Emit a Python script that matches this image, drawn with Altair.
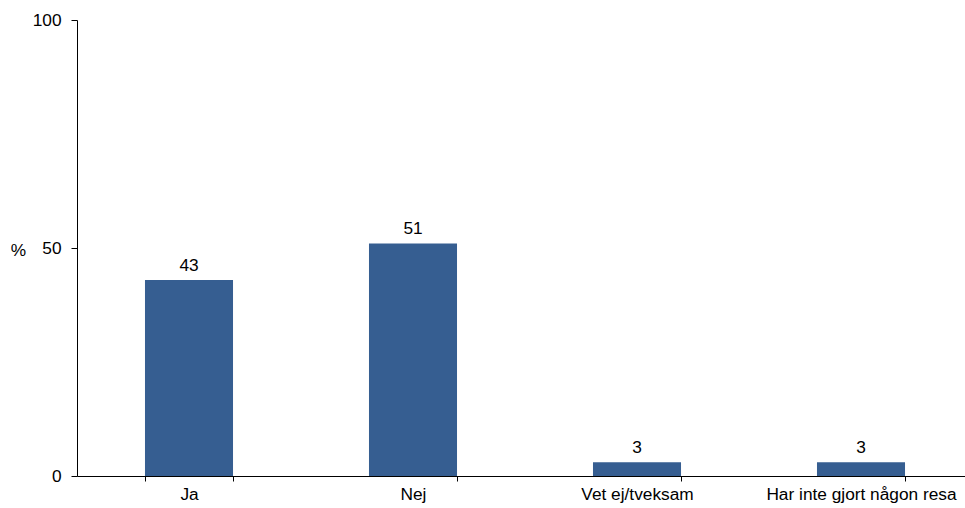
import altair as alt
import pandas as pd

# Survey answers (percent)
categories = ["Ja", "Nej", "Vet ej/tveksam", "Har inte gjort någon resa"]
values = [43, 51, 3, 3]

df = pd.DataFrame({"svar": categories, "procent": values})

FONT = "Liberation Sans"
BAR = "#365E91"
FS = 17.3

base = alt.Chart(df).encode(
    x=alt.X(
        "svar:N",
        sort=categories,
        scale=alt.Scale(range=[0, 896], paddingInner=0.607, paddingOuter=0.3035),
        axis=alt.Axis(
            title=None,
            labelAngle=0,
            labelFontSize=FS,
            labelFont=FONT,
            labelColor="#000000",
            labelPadding=4,
            labelBaseline="top",
            labelLimit=0,
            bandPosition=0,
            tickBand="extent",
            ticks=True,
            tickSize=5,
            tickColor="#000000",
            domainColor="#000000",
            grid=False,
        ),
    ),
    y=alt.Y(
        "procent:Q",
        scale=alt.Scale(domain=[0, 100], nice=False),
        axis=alt.Axis(
            values=[0, 50, 100],
            title="%",
            titleAngle=0,
            titleFont=FONT,
            titleFontSize=FS,
            titleFontWeight="normal",
            titleColor="#000000",
            titleX=-59,
            titleY=230,
            titleAlign="center",
            titleBaseline="middle",
            labelFontSize=FS,
            labelFont=FONT,
            labelColor="#000000",
            labelPadding=10,
            tickSize=6,
            tickColor="#000000",
            domainColor="#000000",
            grid=False,
        ),
    ),
)

bars = base.mark_bar(color=BAR)

labels = base.mark_text(
    baseline="alphabetic", dy=-9, fontSize=FS, font=FONT, color="#000000"
).encode(text="procent:Q")

chart = (
    alt.layer(bars, labels)
    .properties(
        width=888,
        height=456,
        autosize=alt.AutoSizeParams(type="none"),
        padding={"left": 77, "top": 20, "right": 0, "bottom": 32},
        view=alt.ViewBackground(stroke="transparent", strokeWidth=0),
    )
    .configure_view(stroke="#FFFFFF", strokeWidth=0)
    .configure(background="#FFFFFF")
)

chart.save("out.html", embed_options={"renderer": "svg", "actions": False})
